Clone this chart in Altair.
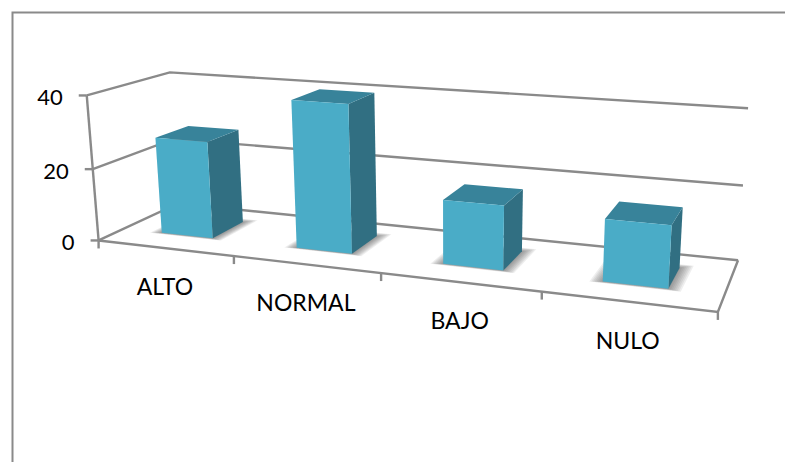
import numpy as np
import pandas as pd
import altair as alt

categories = ["ALTO", "NORMAL", "BAJO", "NULO"]
values = [27, 40, 17, 16]
value_ticks = [0, 20, 40]

FONT = "Lato"
AXIS_COLOR = "#8a8a8a"
FRONT = "#4aacc7"
SIDE = "#316f82"
TOP = "#38839a"

# Perspective camera of the 3D chart box: (category, value, depth) -> page pixel
box_world = [(0, 0, 0), (4, 0, 0), (0, 0, 1), (4, 0, 1), (0, 40, 0), (0, 40, 1),
             (4, 40, 1), (0, 20, 0), (4, 20, 1)]
box_page = [(99, 240), (718, 312), (178, 204), (738, 260), (87, 96), (170, 72),
            (748, 108), (92, 169), (743, 186)]
rows = []
for (a, b, c), (px, py) in zip(box_world, box_page):
    rows.append([a, b, c, 1, 0, 0, 0, 0, -px * a, -px * b, -px * c, -px])
    rows.append([0, 0, 0, 0, a, b, c, 1, -py * a, -py * b, -py * c, -py])
P = np.linalg.svd(np.array(rows, dtype=float))[2][-1].reshape(3, 4)


def project(u, v, w):
    p = P @ np.array([u, v, w, 1.0])
    return p[0] / p[2], p[1] / p[2]


U0, U1 = 0.293, 0.68   # bar extent inside a category
W0, W1 = 0.30, 0.72    # bar extent in depth

polys = {"front": [], "side": [], "top": [], "shadow": []}


def add(kind, pid, corners):
    for k, c in enumerate(corners):
        x, y = project(*c)
        polys[kind].append({"x": x, "y": y, "pid": pid, "k": k})


for i, val in enumerate(values):
    a, b = i + U0, i + U1
    add("front", i, [(a, val, W0), (b, val, W0), (b, 0, W0), (a, 0, W0)])
    add("side", i, [(b, val, W0), (b, val, W1), (b, 0, W1), (b, 0, W0)])
    add("top", i, [(a, val, W0), (a, val, W1), (b, val, W1), (b, val, W0)])
    for s, d in enumerate([0.075, 0.065, 0.055, 0.045, 0.035, 0.025, 0.015, 0.005]):
        add("shadow", f"{i}-{s}", [(a - d, 0, W0 - d * 0.35), (a - d, 0, W1 + d),
                                   (b + d, 0, W1 + d), (b + d, 0, W0 - d * 0.35)])

lines = []


def add_line(pid, pts):
    for k, (x, y) in enumerate(pts):
        lines.append({"x": x, "y": y, "pid": pid, "k": k})


for t in value_ticks:
    add_line(f"grid{t}", [project(0, t, 0), project(0, t, 1), project(4, t, 1)])
    x, y = project(0, t, 0)
    add_line(f"vt{t}", [(x - 8, y), (x, y)])
add_line("floor", [project(0, 0, 0), project(4, 0, 0), project(4, 0, 1)])
add_line("wall", [project(0, 0, 0), project(0, 40, 0)])
for u in range(5):
    x, y = project(u, 0, 0)
    add_line(f"ct{u}", [(x, y), (x, y + 8)])

cat_labels = []
for i, c in enumerate(categories):
    x, y = project(i + 0.5, 0, 0)
    cat_labels.append({"x": x, "y": y, "t": c})
val_labels = []
for t in value_ticks:
    x, y = project(0, t, 0)
    val_labels.append({"x": x, "y": y, "t": str(t)})

xs = alt.Scale(domain=[8, 785], nice=False, zero=False)
ys = alt.Scale(domain=[462, 8], nice=False, zero=False)
X = alt.X("x:Q", scale=xs, axis=None)
Y = alt.Y("y:Q", scale=ys, axis=None)


def polygon(kind, color, opacity=1.0):
    return alt.Chart(pd.DataFrame(polys[kind])).mark_line(
        fill=color, stroke=None, strokeWidth=0, opacity=opacity
    ).encode(x=X, y=Y, detail="pid:N", order="k:Q")


frame = alt.Chart(pd.DataFrame([
    {"x": 785, "y": 12.5, "pid": "f", "k": 0},
    {"x": 12.5, "y": 12.5, "pid": "f", "k": 1},
    {"x": 12.5, "y": 462, "pid": "f", "k": 2},
])).mark_line(color=AXIS_COLOR, strokeWidth=2).encode(x=X, y=Y, detail="pid:N", order="k:Q")

axis_lines = alt.Chart(pd.DataFrame(lines)).mark_line(
    color=AXIS_COLOR, strokeWidth=2.4
).encode(x=X, y=Y, detail="pid:N", order="k:Q")

cat_text = alt.Chart(pd.DataFrame(cat_labels)).mark_text(
    font=FONT, fontSize=23, dy=40, color="#000000", align="center", baseline="middle"
).encode(x=X, y=Y, text="t:N")
val_text = alt.Chart(pd.DataFrame(val_labels)).mark_text(
    font=FONT, fontSize=22, dx=-24, dy=3, color="#000000", align="right", baseline="middle"
).encode(x=X, y=Y, text="t:N")

chart = alt.layer(
    frame, axis_lines,
    polygon("shadow", "#444444", 0.09),
    polygon("side", SIDE), polygon("top", TOP), polygon("front", FRONT),
    cat_text, val_text,
).properties(
    width=777, height=454, padding=0, autosize=alt.AutoSizeParams(type="none")
).configure_view(stroke=None)

chart.save("out.html", embed_options={"renderer": "svg", "actions": False})
